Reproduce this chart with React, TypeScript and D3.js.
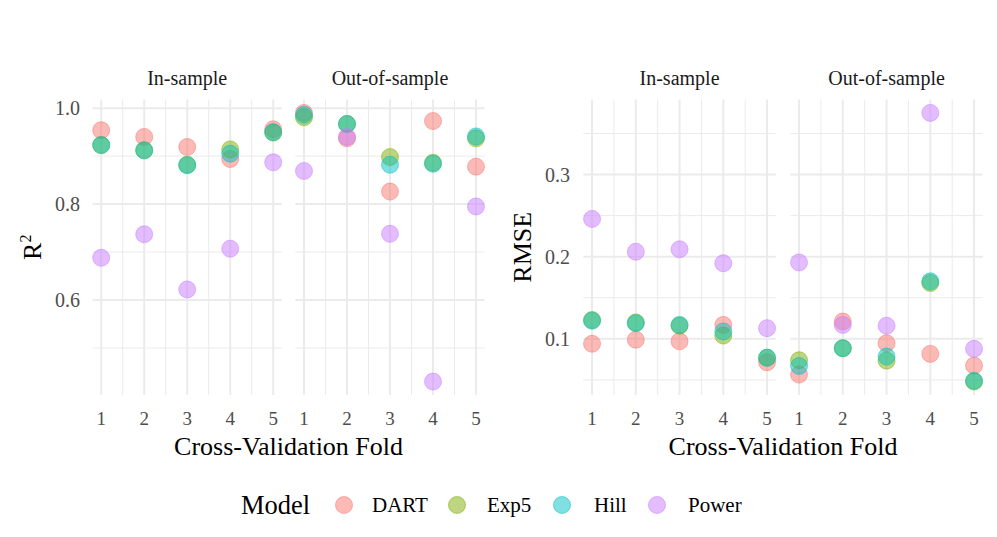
import * as d3 from 'd3';

// cross-validation results
const folds = [1, 2, 3, 4, 5];
const models = ['DART', 'Exp5', 'Hill', 'Power'];
const modelColors = ['#F8766D', '#7CAE00', '#00BFC4', '#C77CFF'];
const samples = ['In-sample', 'Out-of-sample'];

// R^2
const r2InDART = [0.954, 0.940, 0.919, 0.894, 0.956];
const r2InExp5 = [0.923, 0.912, 0.882, 0.914, 0.949];
const r2InHill = [0.923, 0.912, 0.881, 0.905, 0.950];
const r2InPower = [0.688, 0.737, 0.622, 0.707, 0.887];
const r2OutDART = [0.990, 0.937, 0.826, 0.973, 0.878];
const r2OutExp5 = [0.981, 0.967, 0.898, 0.886, 0.937];
const r2OutHill = [0.986, 0.967, 0.882, 0.884, 0.941];
const r2OutPower = [0.869, 0.940, 0.738, 0.430, 0.795];

// RMSE
const rmseInDART = [0.094, 0.099, 0.097, 0.117, 0.0715];
const rmseInExp5 = [0.123, 0.120, 0.116, 0.104, 0.077];
const rmseInHill = [0.122, 0.119, 0.117, 0.109, 0.077];
const rmseInPower = [0.246, 0.206, 0.209, 0.192, 0.113];
const rmseOutDART = [0.0565, 0.121, 0.0947, 0.0817, 0.0674];
const rmseOutExp5 = [0.074, 0.0886, 0.0735, 0.168, 0.048];
const rmseOutHill = [0.067, 0.0886, 0.0784, 0.170, 0.049];
const rmseOutPower = [0.193, 0.117, 0.116, 0.375, 0.0878];

const r2Ticks = [0.6, 0.8, 1.0];
const r2Minor = [0.5, 0.7, 0.9];
const rmseTicks = [0.1, 0.2, 0.3];
const rmseMinor = [0.05, 0.15, 0.25, 0.35];
const xMinor = [1.5, 2.5, 3.5, 4.5];

const W = 997;
const H = 537;
const FONT = '"Liberation Serif", "Times New Roman", serif';

const plots = [
  {
    key: 'r2',
    values: [
      [r2InDART, r2InExp5, r2InHill, r2InPower],
      [r2OutDART, r2OutExp5, r2OutHill, r2OutPower],
    ],
    ticks: r2Ticks,
    minor: r2Minor,
    panels: [[92.6, 281.8], [295.4, 484.6]],
    tickX: 80,
    titleX: 32,
  },
  {
    key: 'rmse',
    values: [
      [rmseInDART, rmseInExp5, rmseInHill, rmseInPower],
      [rmseOutDART, rmseOutExp5, rmseOutHill, rmseOutPower],
    ],
    ticks: rmseTicks,
    minor: rmseMinor,
    panels: [[583.3, 775.8], [790.3, 982.8]],
    tickX: 570,
    titleX: 522,
  },
];

const top = 99.5;
const bottom = 395;

function Plot({ plot }: { plot: any }) {
  const all = plot.values.flat(2) as number[];
  const [lo, hi] = d3.extent(all) as [number, number];
  const pad = (hi - lo) * 0.05;
  const y = d3.scaleLinear().domain([lo - pad, hi + pad]).range([bottom, top]);
  const fmt = d3.format('.1f');
  const [p1, p2] = plot.panels;
  const axisCenter = (p1[0] + p2[1]) / 2;

  return (
    <g>
      {plot.panels.map((pr: number[], si: number) => {
        const x = d3.scaleLinear().domain([0.8, 5.2]).range(pr);
        return (
          <g key={si}>
            {/* grid */}
            {plot.minor.map((v: number) => (
              <line key={'hm' + v} x1={pr[0]} x2={pr[1]} y1={y(v)} y2={y(v)} stroke="#EBEBEB" strokeWidth={1} />
            ))}
            {xMinor.map((v) => (
              <line key={'vm' + v} x1={x(v)} x2={x(v)} y1={top} y2={bottom} stroke="#EBEBEB" strokeWidth={1} />
            ))}
            {plot.ticks.map((v: number) => (
              <line key={'h' + v} x1={pr[0]} x2={pr[1]} y1={y(v)} y2={y(v)} stroke="#EBEBEB" strokeWidth={2} />
            ))}
            {folds.map((f) => (
              <line key={'v' + f} x1={x(f)} x2={x(f)} y1={top} y2={bottom} stroke="#EBEBEB" strokeWidth={2} />
            ))}
            {/* strip */}
            <text x={(pr[0] + pr[1]) / 2} y={85} textAnchor="middle" fontSize={20} fill="#1A1A1A" fontFamily={FONT}>
              {samples[si]}
            </text>
            {/* points */}
            {models.map((m, mi) =>
              plot.values[si][mi].map((v: number, fi: number) => (
                <circle
                  key={m + fi}
                  cx={x(folds[fi])}
                  cy={y(v)}
                  r={8.5}
                  fill={modelColors[mi]}
                  fillOpacity={0.5}
                  stroke={modelColors[mi]}
                  strokeOpacity={0.5}
                  strokeWidth={1}
                />
              ))
            )}
            {/* x tick labels */}
            {folds.map((f) => (
              <text key={'xt' + f} x={x(f)} y={425} textAnchor="middle" fontSize={19} fill="#4D4D4D" fontFamily={FONT}>
                {f}
              </text>
            ))}
          </g>
        );
      })}
      {/* y tick labels */}
      {plot.ticks.map((v: number) => (
        <text key={'yt' + v} x={plot.tickX} y={y(v)} dy="0.35em" textAnchor="end" fontSize={20} fill="#4D4D4D" fontFamily={FONT}>
          {fmt(v)}
        </text>
      ))}
      <text x={axisCenter} y={455} textAnchor="middle" fontSize={26} fill="#000" fontFamily={FONT}>
        Cross-Validation Fold
      </text>
      <text
        transform={`translate(${plot.titleX},${(top + bottom) / 2}) rotate(-90)`}
        dy="0.35em"
        textAnchor="middle"
        fontSize={26}
        fill="#000"
        fontFamily={FONT}
      >
        {plot.key === 'r2' ? (
          <>
            R<tspan fontSize={16} dy={-10}>2</tspan>
          </>
        ) : (
          'RMSE'
        )}
      </text>
    </g>
  );
}

const legendCircleX = [344, 457, 562, 657];
const legendLabelX = [372, 487, 594, 688];

export default function App() {
  return (
    <svg width={W} height={H} style={{ position: 'absolute', left: 0, top: 0, background: '#fff' }}>
      <rect width={W} height={H} fill="#fff" />
      {plots.map((p) => (
        <Plot key={p.key} plot={p} />
      ))}
      {/* legend */}
      <text x={241} y={514} fontSize={26.5} fill="#000" fontFamily={FONT}>
        Model
      </text>
      {models.map((m, i) => (
        <g key={m}>
          <circle cx={legendCircleX[i]} cy={505} r={8.5} fill={modelColors[i]} fillOpacity={0.5} stroke={modelColors[i]} strokeOpacity={0.5} strokeWidth={1} />
          <text x={legendLabelX[i]} y={512} fontSize={21} fill="#000" fontFamily={FONT}>
            {m}
          </text>
        </g>
      ))}
    </svg>
  );
}
